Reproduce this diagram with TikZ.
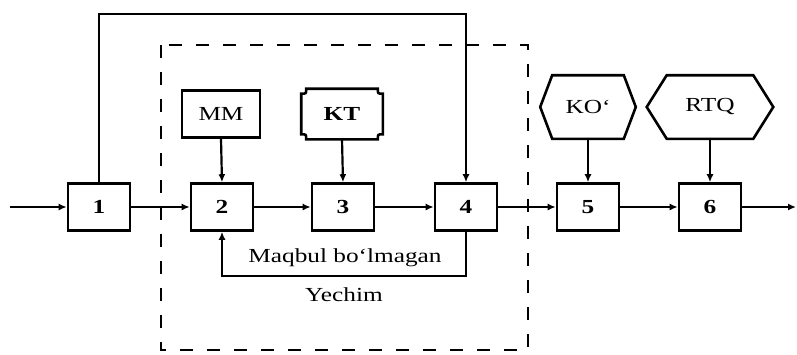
\documentclass[tikz,border=0pt]{standalone}
\usepackage{fontspec}
\setmainfont{Liberation Serif}[FakeStretch=1.27]
\usetikzlibrary{arrows.meta}
\begin{document}
\begin{tikzpicture}[x=1bp,y=-1bp,
  blk/.style={draw, line width=2.6pt, minimum width=62bp, minimum height=47bp, inner sep=0pt, font=\fontsize{20}{24}\selectfont\bfseries},
  lbl/.style={font=\fontsize{20}{24}\selectfont, inner sep=0pt},
  topbox/.style={line width=2.6pt, minimum height=47bp, inner sep=0pt, font=\fontsize{20}{24}\selectfont},
  conn/.style={line width=2.2pt, -{Latex[length=8bp,width=7bp]}},
  frame/.style={line width=2.6pt, dash pattern=on 13bp off 14bp}]
\useasboundingbox (0,0) rectangle (797,354);

% dashed frame
\draw[frame] (161,45) rectangle (528,350);

% main blocks
\node[blk] (b1) at (99,207) {1};
\node[blk] (b2) at (222,207) {2};
\node[blk] (b3) at (343,207) {3};
\node[blk] (b4) at (466,207) {4};
\node[blk] (b5) at (588,207) {5};
\node[blk] (b6) at (710,207) {6};

% upper blocks
\node[topbox, draw, minimum width=78bp] (mm) at (221,114) {MM};
\node[topbox, minimum width=79bp, minimum height=48bp, font=\fontsize{20}{24}\selectfont\bfseries] (kt) at (342,114) {KT};
\draw[line width=2.6pt]
  ([xshift=5bp]kt.north west) -- ([xshift=-5bp]kt.north east)
  .. controls ([xshift=-5bp,yshift=-5bp]kt.north east) .. ([yshift=-5bp]kt.north east)
  -- ([yshift=5bp]kt.south east)
  .. controls ([xshift=-5bp,yshift=5bp]kt.south east) .. ([xshift=-5bp]kt.south east)
  -- ([xshift=5bp]kt.south west)
  .. controls ([xshift=5bp,yshift=5bp]kt.south west) .. ([yshift=5bp]kt.south west)
  -- ([yshift=-5bp]kt.north west)
  .. controls ([xshift=5bp,yshift=-5bp]kt.north west) .. cycle;

\node[topbox, minimum width=93bp, minimum height=61bp] (ko) at (588,107) {KO‘};
\draw[line width=2.6pt] (ko.west) -- ([xshift=12bp]ko.north west) -- ([xshift=-12bp]ko.north east)
  -- (ko.east) -- ([xshift=-12bp]ko.south east) -- ([xshift=12bp]ko.south west) -- cycle;
\node[topbox, minimum width=124bp, minimum height=61bp] (rtq) at (710,107) {RTQ};
\draw[line width=2.6pt] (rtq.west) -- ([xshift=20bp]rtq.north west) -- ([xshift=-20bp]rtq.north east)
  -- (rtq.east) -- ([xshift=-20bp]rtq.south east) -- ([xshift=20bp]rtq.south west) -- cycle;

% labels
\node[lbl] (t1) at (345,258) {Maqbul bo‘lmagan};
\node[lbl] (t2) at (344,295) {Yechim};

% coordinates
\coordinate (in) at (10,207);
\coordinate (out) at (796,207);
\coordinate (top) at (280,14);
\coordinate (fb) at (340,276);

% connectors
\draw[conn] (in) -- (b1.west);
\draw[conn] (b1.east) -- (b2.west);
\draw[conn] (b2.east) -- (b3.west);
\draw[conn] (b3.east) -- (b4.west);
\draw[conn] (b4.east) -- (b5.west);
\draw[conn] (b5.east) -- (b6.west);
\draw[conn] (b6.east) -- (out);
\draw[conn] (b1.north) |- (top) -| (b4.north);
\draw[conn] (b4.south) |- (fb) -| (b2.south);
\draw[conn] (mm.south) -- (b2.north);
\draw[conn] (kt.south) -- (b3.north);
\draw[conn] (ko.south) -- (b5.north);
\draw[conn] (rtq.south) -- (b6.north);
\end{tikzpicture}
\end{document}
